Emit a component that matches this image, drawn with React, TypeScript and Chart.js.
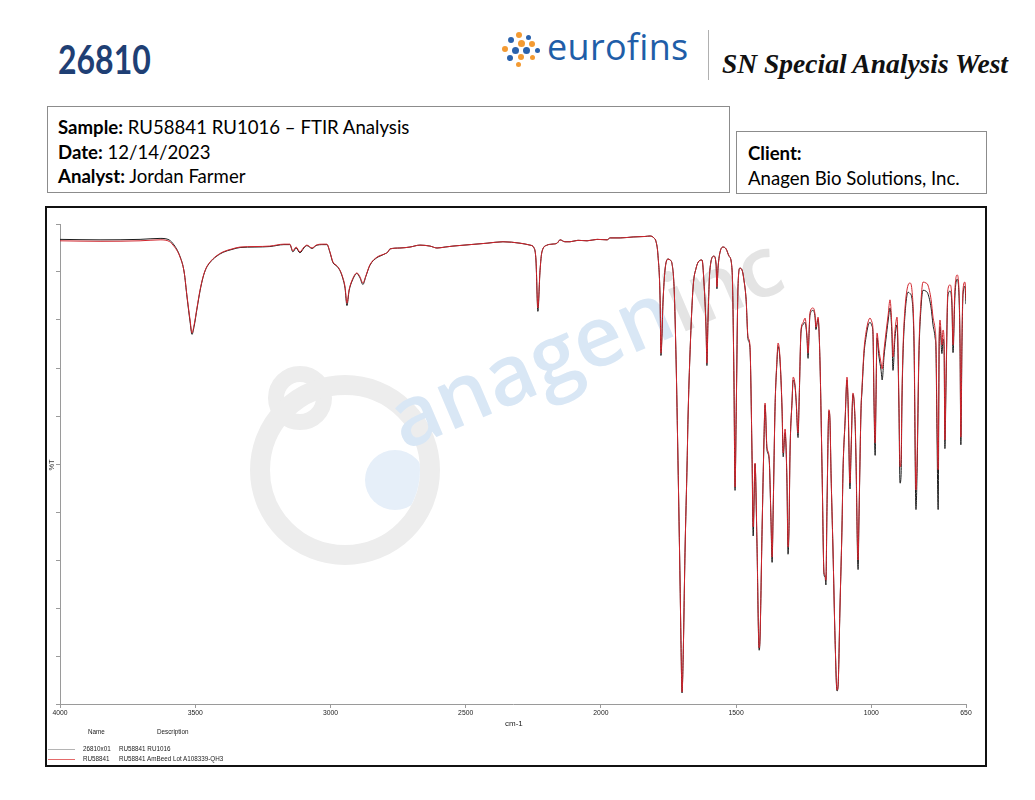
import React, { useEffect, useRef } from "react";
import { Chart, registerables } from "chart.js";

Chart.register(...registerables);

// ---------- data (wavenumber in cm-1, transmittance in %T) ----------
const WAVENUMBERS = [
  4000, 3852, 3704, 3630, 3601, 3582, 3556, 3541, 3530, 3519,
  3512, 3504, 3493, 3482, 3471, 3460, 3445, 3423, 3397, 3364,
  3334, 3279, 3224, 3172, 3150, 3139, 3127, 3113, 3098, 3087,
  3068, 3053, 3028, 3013, 3002, 2991, 2976, 2965, 2954, 2946,
  2939, 2931, 2920, 2902, 2891, 2880, 2869, 2854, 2828, 2813,
  2798, 2787, 2780, 2743, 2706, 2669, 2632, 2606, 2576, 2547,
  2484, 2421, 2362, 2299, 2262, 2247, 2240, 2233, 2225, 2218,
  2199, 2181, 2162, 2151, 2133, 2114, 2085, 2051, 2014, 1977,
  1966, 1929, 1881, 1837, 1818, 1804, 1796, 1789, 1781, 1778,
  1770, 1763, 1752, 1744, 1737, 1729, 1722, 1715, 1707, 1704,
  1700, 1696, 1689, 1681, 1678, 1670, 1659, 1648, 1637, 1626,
  1619, 1611, 1608, 1604, 1597, 1582, 1574, 1571, 1567, 1560,
  1548, 1537, 1526, 1515, 1508, 1504, 1500, 1493, 1486, 1478,
  1471, 1463, 1456, 1449, 1441, 1437, 1430, 1423, 1415, 1412,
  1404, 1397, 1393, 1386, 1378, 1371, 1367, 1363, 1356, 1349,
  1345, 1338, 1330, 1326, 1319, 1312, 1308, 1304, 1301, 1293,
  1289, 1282, 1278, 1271, 1267, 1260, 1253, 1245, 1238, 1234,
  1230, 1227, 1216, 1208, 1205, 1197, 1190, 1182, 1175, 1171,
  1168, 1164, 1157, 1153, 1149, 1142, 1134, 1127, 1123, 1116,
  1108, 1105, 1097, 1090, 1086, 1079, 1075, 1068, 1060, 1057,
  1049, 1046, 1038, 1035, 1027, 1020, 1012, 1005, 998, 994,
  990, 986, 983, 979, 972, 964, 960, 953, 946, 938,
  931, 924, 920, 913, 905, 898, 894, 890, 887, 883,
  876, 864, 857, 850, 842, 835, 831, 824, 816, 809,
  798, 791, 779, 772, 764, 761, 757, 753, 749, 746,
  739, 735, 731, 728, 724, 717, 709, 702, 698, 691,
  683, 676, 672, 669, 665, 661, 654, 650,
];

// RU58841 AmBeed Lot A108339-QH3 (red)
const RU58841_T = [
  96.5, 96.4, 96.5, 96.7, 96.5, 95.6, 93.1, 90.0, 84.8, 80.0,
  77.3, 79.0, 82.7, 86.3, 89.0, 90.8, 92.1, 93.3, 94.2, 94.8,
  95.2, 95.3, 95.4, 95.8, 95.8, 94.4, 95.2, 94.2, 95.2, 95.6,
  95.0, 95.6, 95.8, 95.8, 94.2, 92.1, 91.3, 90.4, 88.8, 86.9,
  83.5, 86.3, 88.3, 89.8, 89.0, 87.7, 89.2, 91.5, 93.1, 93.5,
  93.8, 94.2, 94.8, 95.0, 95.2, 95.6, 95.4, 95.0, 95.2, 95.4,
  95.7, 96.0, 96.3, 96.0, 95.6, 95.0, 92.5, 82.5, 90.4, 94.2,
  95.6, 95.8, 96.0, 96.7, 96.3, 96.3, 96.6, 96.5, 96.8, 96.7,
  97.1, 97.1, 97.3, 97.4, 97.5, 97.1, 96.3, 93.5, 84.2, 73.1,
  84.2, 90.4, 92.7, 92.5, 91.7, 86.3, 71.7, 50.8, 24.4, 13.3,
  2.5, 9.2, 31.5, 50.8, 59.2, 73.8, 86.9, 90.8, 92.3, 92.5,
  87.9, 77.9, 71.0, 80.0, 90.4, 93.3, 91.5, 86.9, 90.8, 94.0,
  95.2, 94.8, 93.3, 90.4, 67.5, 45.2, 59.2, 86.9, 90.8, 90.4,
  88.3, 84.2, 76.5, 74.8, 51.5, 36.9, 50.2, 34.2, 11.7, 13.3,
  36.3, 55.0, 62.7, 53.5, 51.5, 38.5, 30.6, 40.6, 61.9, 71.7,
  75.2, 72.3, 61.3, 52.3, 57.3, 46.7, 32.7, 38.5, 51.5, 63.3,
  68.1, 66.5, 63.3, 56.5, 63.3, 77.9, 79.4, 80.4, 76.7, 73.1,
  77.9, 81.5, 82.5, 81.0, 78.5, 80.6, 71.7, 48.1, 27.3, 26.9,
  25.8, 41.0, 61.3, 59.2, 48.1, 32.7, 13.3, 2.9, 3.9, 20.2,
  38.3, 48.1, 59.2, 68.1, 63.3, 46.0, 52.9, 64.8, 59.2, 52.3,
  30.0, 38.3, 61.9, 65.4, 73.8, 77.3, 79.6, 80.4, 79.6, 77.9,
  63.3, 54.4, 63.3, 77.3, 73.8, 71.0, 69.8, 73.8, 77.3, 81.0,
  84.2, 78.5, 72.3, 77.5, 80.6, 63.3, 49.4, 50.8, 63.3, 73.8,
  82.1, 87.3, 87.7, 86.3, 75.8, 44.6, 50.8, 73.8, 84.2, 87.9,
  87.7, 87.3, 84.2, 80.6, 77.9, 75.2, 59.2, 48.8, 77.3, 80.0,
  74.8, 77.9, 75.8, 55.0, 67.5, 86.3, 87.3, 84.2, 74.8, 86.3,
  89.4, 86.3, 75.2, 55.6, 75.8, 86.3, 87.9, 84.2,
];

// 26810x01 RU58841 RU1016 (black)
const X26810_T = [
  96.8, 96.7, 96.8, 97.0, 96.8, 95.9, 93.2, 90.0, 84.6, 79.6,
  77.0, 78.7, 82.5, 86.1, 88.9, 90.7, 92.0, 93.2, 94.1, 94.7,
  95.1, 95.2, 95.3, 95.7, 95.7, 94.2, 95.0, 94.0, 95.0, 95.5,
  94.9, 95.5, 95.7, 95.7, 94.1, 92.0, 91.2, 90.3, 88.6, 86.6,
  83.0, 86.1, 88.1, 89.7, 88.8, 87.4, 89.1, 91.4, 93.0, 93.4,
  93.8, 94.2, 94.8, 95.0, 95.2, 95.6, 95.4, 95.0, 95.2, 95.4,
  95.7, 96.0, 96.3, 96.0, 95.6, 95.0, 92.3, 81.8, 90.3, 94.2,
  95.6, 95.8, 96.0, 96.7, 96.3, 96.3, 96.6, 96.5, 96.8, 96.7,
  97.1, 97.1, 97.3, 97.4, 97.5, 97.1, 96.3, 93.5, 84.0, 72.6,
  84.2, 90.4, 92.7, 92.5, 91.7, 86.3, 71.7, 50.8, 24.4, 13.3,
  2.3, 9.2, 31.5, 50.8, 59.2, 73.8, 86.9, 90.8, 92.3, 92.5,
  87.9, 77.9, 70.5, 80.0, 90.4, 93.3, 91.5, 86.5, 90.8, 94.0,
  95.2, 94.8, 93.3, 90.4, 67.5, 44.5, 59.2, 86.9, 90.8, 90.4,
  88.3, 84.2, 76.0, 74.3, 51.0, 35.0, 50.0, 33.5, 11.2, 13.0,
  36.3, 55.0, 62.3, 53.0, 51.0, 38.0, 29.5, 40.3, 61.9, 71.2,
  74.5, 71.8, 61.0, 51.5, 56.5, 46.0, 31.2, 38.0, 51.5, 63.3,
  67.5, 66.0, 63.0, 55.5, 63.0, 77.5, 79.0, 79.5, 76.2, 72.0,
  77.5, 81.0, 82.0, 80.5, 78.0, 80.2, 71.5, 48.0, 27.0, 26.4,
  24.8, 41.0, 61.0, 59.0, 48.0, 32.5, 13.2, 2.7, 3.7, 20.0,
  38.3, 48.0, 59.0, 67.5, 62.5, 44.8, 52.3, 64.5, 58.5, 51.5,
  28.0, 37.5, 61.5, 64.8, 73.0, 76.3, 78.8, 79.5, 78.8, 77.0,
  62.0, 51.8, 62.5, 76.3, 72.5, 69.5, 67.5, 72.5, 76.0, 79.8,
  82.5, 77.0, 69.5, 76.0, 79.0, 61.5, 46.0, 47.8, 62.0, 72.5,
  80.8, 85.8, 85.5, 84.5, 74.0, 40.5, 48.0, 72.5, 82.8, 86.2,
  86.0, 85.5, 82.5, 79.0, 76.2, 73.5, 55.0, 40.5, 75.5, 78.5,
  73.0, 76.0, 74.0, 53.2, 66.0, 85.0, 86.0, 83.0, 73.2, 85.0,
  88.5, 85.2, 74.0, 54.0, 74.5, 85.3, 87.0, 83.3,
];

const X_TICKS = [4000, 3500, 3000, 2500, 2000, 1500, 1000, 650];
const X_MIN = 650;
const X_MAX = 4000;
const Y_MIN = 0;
const Y_MAX = 100;
const Y_STEP = 10;

const LEGEND_NAMES = ["26810x01", "RU58841"];
const LEGEND_DESCRIPTIONS = ["RU58841 RU1016", "RU58841 AmBeed Lot A108339-QH3"];
const LEGEND_SWATCHES = ["#b4b4b4", "#e46a6a"];

const RED = "#d0232b";
const BLACK = "#1c1c1c";

// ---------- page helpers (coordinates given in page pixels; body margin is 8) ----------
const at = (x: number, y: number): React.CSSProperties => ({
  position: "absolute",
  left: x - 8,
  top: y - 8,
});

const LOGO_DOTS: Array<[number, number, number, string]> = [
  [519, 35, 3, "#f39a32"],
  [528, 37, 2.5, "#2a62ad"],
  [511, 40, 3, "#2a62ad"],
  [521, 43, 3.5, "#f39a32"],
  [532, 44, 3, "#f39a32"],
  [505, 49, 3, "#f39a32"],
  [515, 50, 3.5, "#2a62ad"],
  [526, 50, 3.5, "#2a62ad"],
  [537, 50, 2.5, "#2a62ad"],
  [510, 58, 3, "#2a62ad"],
  [521, 57, 3, "#f39a32"],
  [532, 57, 2.5, "#f39a32"],
  [518, 64, 2.5, "#f39a32"],
];

function SpectrumChart() {
  const ref = useRef<HTMLCanvasElement | null>(null);
  useEffect(() => {
    const canvas = ref.current;
    if (!canvas) return;
    const chart = new Chart(canvas, {
      type: "line",
      data: {
        datasets: [
          {
            label: LEGEND_NAMES[1],
            data: WAVENUMBERS.map((x, i) => ({ x, y: RU58841_T[i] })),
            borderColor: RED,
            borderWidth: 1,
            pointRadius: 0,
            cubicInterpolationMode: "monotone",
          },
          {
            label: LEGEND_NAMES[0],
            data: WAVENUMBERS.map((x, i) => ({ x, y: X26810_T[i] })),
            borderColor: BLACK,
            borderWidth: 1,
            pointRadius: 0,
            cubicInterpolationMode: "monotone",
          },
        ],
      },
      options: {
        animation: false,
        responsive: false,
        maintainAspectRatio: false,
        layout: { padding: { top: 16, right: 19, left: 0, bottom: 0 } },
        plugins: {
          legend: { display: false },
          tooltip: { enabled: false },
        },
        scales: {
          x: {
            type: "linear",
            reverse: true,
            min: X_MIN,
            max: X_MAX,
            afterBuildTicks: (s: any) => {
              s.ticks = X_TICKS.map((v) => ({ value: v }));
            },
            afterFit: (s: any) => {
              s.height = 41;
            },
            ticks: {
              autoSkip: false,
              maxRotation: 0,
              padding: 1,
              color: "#222",
              font: { family: "'Liberation Sans', Arial, sans-serif", size: 6.8 },
              callback: (v: any) => String(v),
            },
            grid: { drawOnChartArea: false, drawTicks: true, tickLength: 4, color: "#9a9a9a" },
            border: { display: true, color: "#9a9a9a", width: 1 },
          },
          y: {
            min: Y_MIN,
            max: Y_MAX,
            ticks: { display: false, stepSize: Y_STEP },
            afterFit: (s: any) => {
              s.width = 13;
            },
            grid: { drawOnChartArea: false, drawTicks: true, tickLength: 4, color: "#9a9a9a" },
            border: { display: true, color: "#9a9a9a", width: 1 },
          },
        },
      } as any,
    });
    return () => chart.destroy();
  }, []);
  // canvas spans page y 208..745; plot area page y 224..704
  return (
    <canvas
      ref={ref}
      width={938}
      height={537}
      style={{ position: "absolute", left: 0, top: 0, width: 938, height: 537 }}
    />
  );
}

export default function App() {
  const small: React.CSSProperties = {
    fontFamily: "'Liberation Sans', Arial, sans-serif",
    fontSize: 6.3,
    color: "#222",
    lineHeight: "8px",
    whiteSpace: "nowrap",
  };
  const boxText: React.CSSProperties = {
    fontFamily: "Lato, sans-serif",
    fontSize: 18.6,
    color: "#000",
    lineHeight: "24.5px",
    whiteSpace: "nowrap",
  };
  const ring = "#ededed";
  return (
    <div style={{ position: "relative", width: 1019, height: 784, background: "#fff" }}>
      {/* title number */}
      <div
        style={{
          ...at(58, 39),
          fontFamily: "Lato, sans-serif",
          fontWeight: 700,
          fontSize: 40,
          lineHeight: "40px",
          color: "#1f3f74",
          transform: "scaleX(0.8)",
          transformOrigin: "left center",
        }}
      >
        26810
      </div>

      {/* eurofins logo */}
      {LOGO_DOTS.map(([x, y, r, c], i) => (
        <div
          key={i}
          style={{
            ...at(x - r, y - r),
            width: r * 2,
            height: r * 2,
            borderRadius: "50%",
            background: c,
          }}
        />
      ))}
      <div
        style={{
          ...at(547, 28),
          fontFamily: "'Open Sans', sans-serif",
          fontSize: 36,
          lineHeight: "37px",
          color: "#1f5ea8",
          letterSpacing: 0.3,
        }}
      >
        eurofins
      </div>
      <div style={{ ...at(708, 30), width: 1, height: 50, background: "#b0b0b0" }} />
      <div
        style={{
          ...at(722, 50),
          fontFamily: "'Liberation Serif', serif",
          fontWeight: 700,
          fontStyle: "italic",
          fontSize: 27.5,
          lineHeight: "28px",
          color: "#111",
          whiteSpace: "nowrap",
        }}
      >
        SN Special Analysis West
      </div>

      {/* sample box */}
      <div
        style={{
          ...at(47, 106),
          width: 683,
          height: 87,
          border: "1px solid #8c8c8c",
          boxSizing: "border-box",
        }}
      />
      <div style={{ ...at(58, 115), ...boxText }}>
        <div>
          <b>Sample:</b> RU58841 RU1016 – FTIR Analysis
        </div>
        <div>
          <b>Date:</b> 12/14/2023
        </div>
        <div>
          <b>Analyst:</b> Jordan Farmer
        </div>
      </div>

      {/* client box */}
      <div
        style={{
          ...at(736, 131),
          width: 251,
          height: 63,
          border: "1px solid #8c8c8c",
          boxSizing: "border-box",
        }}
      />
      <div style={{ ...at(748, 141), ...boxText }}>
        <div>
          <b>Client:</b>
        </div>
        <div>Anagen Bio Solutions, Inc.</div>
      </div>

      {/* chart frame */}
      <div
        style={{
          ...at(45, 206),
          width: 942,
          height: 561,
          border: "2px solid #111",
          boxSizing: "border-box",
          background: "#fff",
          overflow: "hidden",
        }}
      >
        {/* watermark (frame-local coordinates: page - 47/208) */}
        <div
          style={{
            position: "absolute",
            left: 300 - 47 - 32,
            top: 398 - 208 - 32,
            width: 64,
            height: 64,
            borderRadius: "50%",
            border: `16px solid ${ring}`,
            boxSizing: "border-box",
          }}
        />
        <div
          style={{
            position: "absolute",
            left: 345 - 47 - 95,
            top: 470 - 208 - 95,
            width: 190,
            height: 190,
            borderRadius: "50%",
            border: `20px solid ${ring}`,
            boxSizing: "border-box",
            overflow: "hidden",
          }}
        >
          <div
            style={{
              position: "absolute",
              left: 95,
              top: 55,
              width: 60,
              height: 60,
              borderRadius: "50%",
              background: "#e6eff9",
            }}
          />
        </div>
        <div
          style={{
            position: "absolute",
            left: 408 - 47,
            top: 376 - 208,
            fontFamily: "'Open Sans', sans-serif",
            fontWeight: 600,
            fontSize: 84,
            lineHeight: "84px",
            whiteSpace: "nowrap",
            transform: "rotate(-23deg)",
            transformOrigin: "left bottom",
          }}
        >
          <span style={{ color: "#d9e7f5" }}>anagen</span>
          <span style={{ color: "#e4e4e4" }}>inc</span>
        </div>

        <SpectrumChart />

        {/* axis titles */}
        <div
          style={{
            position: "absolute",
            left: 505 - 47,
            top: 719 - 208,
            fontFamily: "'Liberation Sans', Arial, sans-serif",
            fontSize: 8,
            lineHeight: "10px",
            color: "#222",
          }}
        >
          cm-1
        </div>
        <div
          style={{
            position: "absolute",
            left: 52 - 47 - 6,
            top: 465 - 208 - 5,
            width: 12,
            height: 10,
            fontFamily: "'Liberation Sans', Arial, sans-serif",
            fontSize: 7.5,
            lineHeight: "10px",
            textAlign: "center",
            color: "#222",
            transform: "rotate(-90deg)",
          }}
        >
          %T
        </div>

        {/* legend table */}
        <div style={{ ...small, position: "absolute", left: 88 - 47, top: 728 - 208 }}>Name</div>
        <div style={{ ...small, position: "absolute", left: 157 - 47, top: 728 - 208 }}>
          Description
        </div>
        {LEGEND_NAMES.map((n, i) => (
          <React.Fragment key={n}>
            <div
              style={{
                position: "absolute",
                left: 1,
                top: 749 + i * 10 - 208,
                width: 27,
                height: 1,
                background: LEGEND_SWATCHES[i],
              }}
            />
            <div style={{ ...small, position: "absolute", left: 83 - 47, top: 745 + i * 10 - 208 }}>
              {n}
            </div>
            <div style={{ ...small, position: "absolute", left: 119 - 47, top: 745 + i * 10 - 208 }}>
              {LEGEND_DESCRIPTIONS[i]}
            </div>
          </React.Fragment>
        ))}
      </div>
    </div>
  );
}
